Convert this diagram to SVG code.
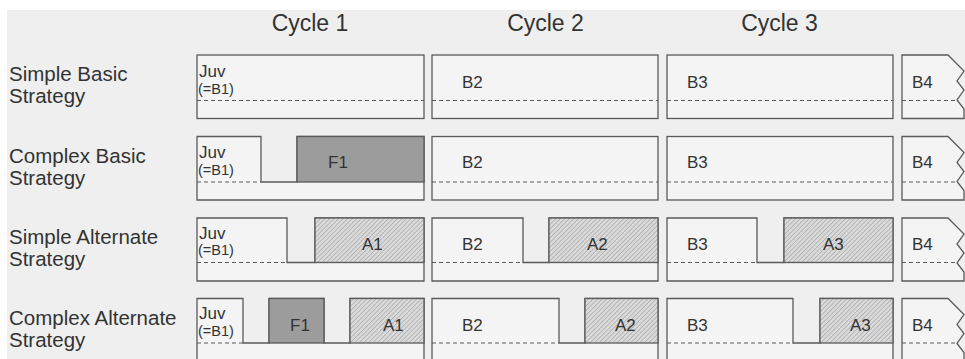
<svg xmlns="http://www.w3.org/2000/svg" width="965" height="359" viewBox="0 0 965 359">
<style>
  .bg { fill: #efefef; }
  .box { fill: #f4f4f4; stroke: #5a5a5a; stroke-width: 1.3; }
  .fbox { fill: #9c9c9c; stroke: #5a5a5a; stroke-width: 1.3; }
  .abox { fill: url(#hatch); stroke: #5a5a5a; stroke-width: 1.3; }
  .dash { stroke: #5a5a5a; stroke-width: 1.2; stroke-dasharray: 4 3; fill: none; }
  .hdr { font-family: "Liberation Sans", Arial, sans-serif; font-size: 23px; fill: #333333; text-anchor: middle; }
  .lbl { font-family: "Liberation Sans", Arial, sans-serif; font-size: 20.5px; fill: #333333; }
  .in { font-family: "Liberation Sans", Arial, sans-serif; font-size: 17px; fill: #333333; }
  .juv { font-family: "Liberation Sans", Arial, sans-serif; font-size: 17px; fill: #333333; }
  .sub { font-family: "Liberation Sans", Arial, sans-serif; font-size: 14.5px; fill: #333333; }
</style>
<defs>
  <pattern id="hatch" patternUnits="userSpaceOnUse" width="3.2" height="3.2" patternTransform="rotate(45)">
    <rect width="3.2" height="3.2" fill="#dadada"/>
    <line x1="0" y1="0" x2="0" y2="3.2" stroke="#9a9a9a" stroke-width="1.1"/>
  </pattern>
</defs>
<rect x="0" y="0" width="965" height="359" fill="#ffffff"/>
<rect class="bg" x="7" y="10" width="958" height="349"/>

<g id="headers">
  <text class="hdr" x="310" y="31">Cycle 1</text>
  <text class="hdr" x="545.5" y="31">Cycle 2</text>
  <text class="hdr" x="779.5" y="31">Cycle 3</text>
</g>

<g id="row-labels">
  <text class="lbl" x="9" y="81">Simple Basic</text>
  <text class="lbl" x="9" y="103">Strategy</text>
  <text class="lbl" x="9" y="162.5">Complex Basic</text>
  <text class="lbl" x="9" y="184.5">Strategy</text>
  <text class="lbl" x="9" y="244">Simple Alternate</text>
  <text class="lbl" x="9" y="266">Strategy</text>
  <text class="lbl" x="9" y="324.5">Complex Alternate</text>
  <text class="lbl" x="9" y="347">Strategy</text>
</g>

<!-- Row 1: Simple Basic -->
<g id="r1c1">
  <rect class="box" x="197" y="55" width="227" height="63.5"/>
  <line class="dash" x1="197" y1="100.5" x2="424" y2="100.5"/>
  <text class="juv" x="199" y="77">Juv</text>
  <text class="sub" x="198" y="93.5">(=B1)</text>
</g>
<g id="r1c2">
  <rect class="box" x="432" y="55" width="226" height="63.5"/>
  <line class="dash" x1="432" y1="100.5" x2="658" y2="100.5"/>
  <text class="in" x="462" y="88">B2</text>
</g>
<g id="r1c3">
  <rect class="box" x="667" y="55" width="226" height="63.5"/>
  <line class="dash" x1="667" y1="100.5" x2="893" y2="100.5"/>
  <text class="in" x="687" y="88">B3</text>
</g>
<g id="r1c4">
  <path class="box" d="M902,118.5 V55 H948 L964,71 L957,81 L964,90 L957,100 L964,109 V118.5 Z"/>
  <line class="dash" x1="902" y1="100.5" x2="957" y2="100.5"/>
  <text class="in" x="912" y="88">B4</text>
</g>

<!-- Row 2: Complex Basic -->
<g id="r2c1">
  <path class="box" d="M197,200 V136.5 H261 V182 H297 V136.5 H424 V200 Z"/>
  <rect class="fbox" x="297" y="136.5" width="127" height="45.5"/>
  <line class="dash" x1="197" y1="182" x2="261" y2="182"/>
  <text class="juv" x="199" y="158">Juv</text>
  <text class="sub" x="198" y="174.5">(=B1)</text>
  <text class="in" x="328" y="168">F1</text>
</g>
<g id="r2c2">
  <rect class="box" x="432" y="136.5" width="226" height="63.5"/>
  <line class="dash" x1="432" y1="182" x2="658" y2="182"/>
  <text class="in" x="462" y="168">B2</text>
</g>
<g id="r2c3">
  <rect class="box" x="667" y="136.5" width="226" height="63.5"/>
  <line class="dash" x1="667" y1="182" x2="893" y2="182"/>
  <text class="in" x="687" y="168">B3</text>
</g>
<g id="r2c4">
  <path class="box" d="M902,200 V136.5 H948 L964,152.5 L957,162.5 L964,171.5 L957,181.5 L964,190.5 V200 Z"/>
  <line class="dash" x1="902" y1="182" x2="957" y2="182"/>
  <text class="in" x="912" y="168">B4</text>
</g>

<!-- Row 3: Simple Alternate -->
<g id="r3c1">
  <path class="box" d="M197,281 V218 H287 V262.5 H315 V218 H424 V281 Z"/>
  <rect class="abox" x="315" y="218" width="109" height="44.5"/>
  <line class="dash" x1="197" y1="262.5" x2="287" y2="262.5"/>
  <text class="juv" x="199" y="238.5">Juv</text>
  <text class="sub" x="198" y="255">(=B1)</text>
  <text class="in" x="362" y="250">A1</text>
</g>
<g id="r3c2">
  <path class="box" d="M432,281 V218 H523 V262.5 H549 V218 H658 V281 Z"/>
  <rect class="abox" x="549" y="218" width="109" height="44.5"/>
  <line class="dash" x1="432" y1="262.5" x2="523" y2="262.5"/>
  <text class="in" x="462" y="250">B2</text>
  <text class="in" x="587" y="250">A2</text>
</g>
<g id="r3c3">
  <path class="box" d="M667,281 V218 H757 V262.5 H784 V218 H893 V281 Z"/>
  <rect class="abox" x="784" y="218" width="109" height="44.5"/>
  <line class="dash" x1="667" y1="262.5" x2="757" y2="262.5"/>
  <text class="in" x="687" y="250">B3</text>
  <text class="in" x="823" y="250">A3</text>
</g>
<g id="r3c4">
  <path class="box" d="M902,281 V218 H948 L964,234 L957,244 L964,253 L957,263 L964,272 V281 Z"/>
  <line class="dash" x1="902" y1="262.5" x2="957" y2="262.5"/>
  <text class="in" x="912" y="250">B4</text>
</g>

<!-- Row 4: Complex Alternate -->
<g id="r4c1">
  <path class="box" d="M197,362 V298.5 H243 V343 H269 V298.5 H324 V343 H350 V298.5 H424 V362 Z"/>
  <rect class="fbox" x="269" y="298.5" width="55" height="44.5"/>
  <rect class="abox" x="350" y="298.5" width="74" height="44.5"/>
  <line class="dash" x1="197" y1="343" x2="243" y2="343"/>
  <text class="juv" x="199" y="319">Juv</text>
  <text class="sub" x="198" y="335.5">(=B1)</text>
  <text class="in" x="290" y="331">F1</text>
  <text class="in" x="383" y="331">A1</text>
</g>
<g id="r4c2">
  <path class="box" d="M432,362 V298.5 H559 V343 H585 V298.5 H658 V362 Z"/>
  <rect class="abox" x="585" y="298.5" width="73" height="44.5"/>
  <line class="dash" x1="432" y1="343" x2="559" y2="343"/>
  <text class="in" x="462" y="331">B2</text>
  <text class="in" x="615" y="331">A2</text>
</g>
<g id="r4c3">
  <path class="box" d="M667,362 V298.5 H793 V343 H820 V298.5 H893 V362 Z"/>
  <rect class="abox" x="820" y="298.5" width="73" height="44.5"/>
  <line class="dash" x1="667" y1="343" x2="793" y2="343"/>
  <text class="in" x="687" y="331">B3</text>
  <text class="in" x="850" y="331">A3</text>
</g>
<g id="r4c4">
  <path class="box" d="M902,362 V298.5 H948 L964,314.5 L957,324.5 L964,333.5 L957,343.5 L964,352.5 V362 Z"/>
  <line class="dash" x1="902" y1="343" x2="957" y2="343"/>
  <text class="in" x="912" y="331">B4</text>
</g>

<g id="connectors"></g>
</svg>
